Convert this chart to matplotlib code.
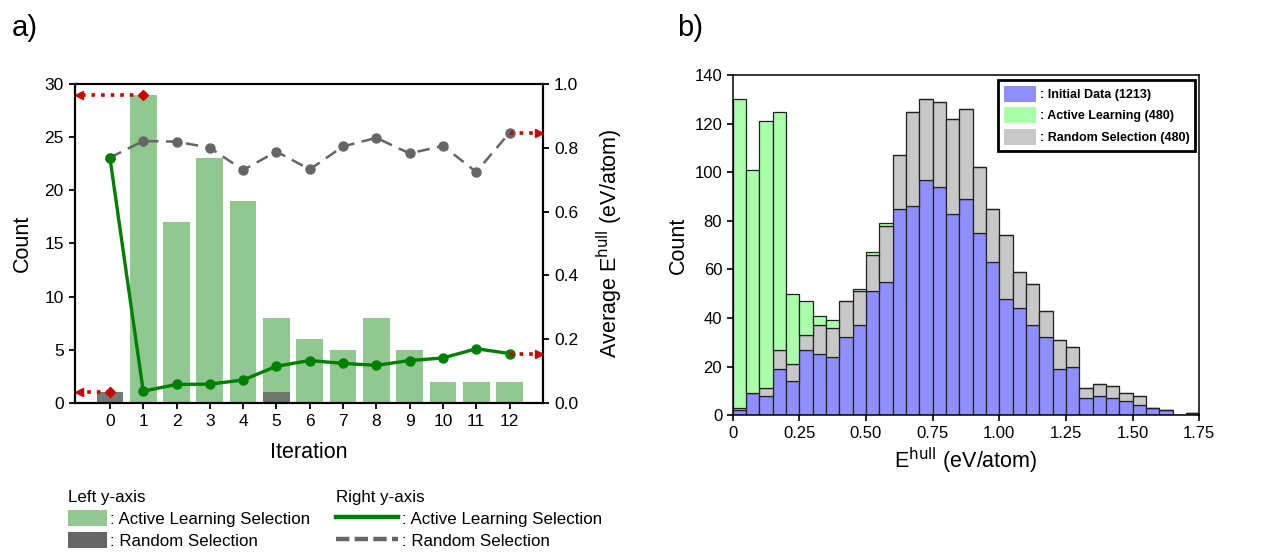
import numpy as np
import matplotlib
matplotlib.use("Agg")
import matplotlib.pyplot as plt
from matplotlib.patches import Patch
from matplotlib.lines import Line2D

plt.rcParams["font.family"] = ["Liberation Sans", "DejaVu Sans"]

# ---------- data: panel a ----------
iterations = list(range(13))
al_counts = [0, 29, 17, 23, 19, 8, 6, 5, 8, 5, 2, 2, 2]
rand_counts = [1, 0, 0, 0, 0, 1, 0, 0, 0, 0, 0, 0, 0]
al_ehull = [0.769, 0.037, 0.058, 0.059, 0.072, 0.115, 0.133, 0.124, 0.118, 0.133, 0.141, 0.170, 0.155]
rand_ehull = [0.769, 0.821, 0.819, 0.800, 0.730, 0.788, 0.732, 0.804, 0.831, 0.782, 0.806, 0.724, 0.847]

# ---------- data: panel b (counts per 0.05 eV/atom bin, stacked) ----------
initial_counts = [2, 9, 8, 19, 14, 27, 25, 24, 32, 37, 51, 55, 85, 86, 97, 94, 83, 89,
                  75, 63, 48, 44, 37, 32, 19, 20, 7, 8, 7, 6, 4, 3, 2, 0, 1]
random_counts = [1, 0, 3, 8, 7, 6, 12, 12, 15, 14, 15, 23, 22, 39, 33, 35, 39, 37,
                 27, 22, 26, 15, 17, 11, 12, 8, 4, 5, 5, 3, 4, 0, 0, 0, 0]
active_counts = [127, 92, 110, 98, 29, 14, 4, 3, 0, 1, 1, 1, 0, 0, 0, 0, 0, 0,
                 0, 0, 0, 0, 0, 0, 0, 0, 0, 0, 0, 0, 0, 0, 0, 0, 0]
bin_edges = np.linspace(0, 1.75, 36)

RED = "#cc0000"
AL_GREEN = "green"
RAND_DARK = "#6b736b"

fig = plt.figure(figsize=(12.68, 5.52), dpi=100)

# ---------- panel a ----------
ax = fig.add_axes([0.0591, 0.270, 0.369, 0.578])
ax.bar(iterations, al_counts, width=0.8, color=AL_GREEN, alpha=0.43, zorder=1)
ax.bar(iterations, rand_counts, width=0.8, color=RAND_DARK, alpha=0.95, zorder=2)
ax.set_xlim(-1.05, 13.0)
ax.set_ylim(0, 30)
ax.set_xticks(iterations)
ax.set_yticks(range(0, 31, 5))
ax.set_xlabel("Iteration", fontsize=15.5, labelpad=9)
ax.set_ylabel("Count", fontsize=15.5, labelpad=8)
ax.tick_params(labelsize=12.5, width=1.3, length=4.5)

ax2 = ax.twinx()
ax2.plot(iterations, rand_ehull, color="#666666", ls=(0, (5, 3)), lw=1.8,
         marker="o", ms=6.5, zorder=3)
ax2.plot(iterations, al_ehull, color=AL_GREEN, lw=2.4, marker="o", ms=6.5, zorder=4)
ax2.set_ylim(0, 1.0)
ax2.set_yticks(np.arange(0, 1.01, 0.2))
ax2.set_yticklabels([f"{v:.1f}" for v in np.arange(0, 1.01, 0.2)])
ax2.set_ylabel("Average E$^{\\mathrm{hull}}$ (eV/atom)", fontsize=15.5, labelpad=12)
ax2.tick_params(labelsize=12.5, width=1.3, length=4.5)
for a in (ax, ax2):
    for s in a.spines.values():
        s.set_linewidth(1.5)

# red dotted guide arrows
x_left = ax.get_xlim()[0]
x_right = ax.get_xlim()[1]
for xs, ys in [(1, al_counts[1]), (0, rand_counts[0])]:
    ax.plot([xs, x_left + 0.15], [ys, ys], color=RED, ls=":", lw=2.6, clip_on=False, zorder=5)
    ax.plot(xs, ys, marker="D", color=RED, ms=5, clip_on=False, zorder=5)
    ax.plot(x_left + 0.12, ys, marker="<", color=RED, ms=6, clip_on=False, zorder=5)
for ys in [al_ehull[-1], rand_ehull[-1]]:
    ax2.plot([iterations[-1], x_right - 0.15], [ys, ys], color=RED, ls=":", lw=2.6,
             clip_on=False, zorder=5)
    ax2.plot(x_right - 0.12, ys, marker=">", color=RED, ms=6, clip_on=False, zorder=5)

# legends below panel a
h_left = [Patch(color=AL_GREEN, alpha=0.43, lw=0), Patch(color="#666666", lw=0)]
leg1 = fig.legend(h_left, [": Active Learning Selection", ": Random Selection"],
                  title="Left y-axis", loc="upper left", bbox_to_anchor=(0.047, 0.128),
                  frameon=False, fontsize=12.2, title_fontsize=12.2, handlelength=2.3,
                  handleheight=1.1, handletextpad=0.2, labelspacing=0.3, borderpad=0)
leg1._legend_box.align = "left"
h_right = [Line2D([], [], color=AL_GREEN, lw=3.2),
           Line2D([], [], color="#666666", lw=3.2, ls=(0, (3, 1.2)))]
leg2 = fig.legend(h_right, [": Active Learning Selection", ": Random Selection"],
                  title="Right y-axis", loc="upper left", bbox_to_anchor=(0.258, 0.128),
                  frameon=False, fontsize=12.2, title_fontsize=12.2, handlelength=3.7,
                  handleheight=1.1, handletextpad=0.2, labelspacing=0.3, borderpad=0)
leg2._legend_box.align = "left"

# ---------- panel b ----------
bx = fig.add_axes([0.5778, 0.248, 0.368, 0.616])
lefts = bin_edges[:-1]
widths = np.diff(bin_edges)
init = np.array(initial_counts)
rand = np.array(random_counts)
act = np.array(active_counts)
bar_kw = dict(align="edge", edgecolor="#222222", linewidth=0.9)
bx.bar(lefts, init, width=widths, color="#8f8fff", **bar_kw)
bx.bar(lefts, rand, width=widths, bottom=init, color="#c8c8c8", **bar_kw)
bx.bar(lefts, act, width=widths, bottom=init + rand, color="#aaffaa", **bar_kw)
bx.set_xlim(0, 1.75)
bx.set_ylim(0, 140)
xt = np.arange(0, 1.76, 0.25)
bx.set_xticks(xt)
bx.set_xticklabels(["0"] + [f"{v:.2f}" for v in xt[1:]])
bx.set_yticks(range(0, 141, 20))
bx.tick_params(labelsize=12, width=1.2, length=4)
bx.set_xlabel("E$^{\\mathrm{hull}}$ (eV/atom)", fontsize=15.5)
bx.set_ylabel("Count", fontsize=15.5)
for s in bx.spines.values():
    s.set_linewidth(1.1)

h_b = [Patch(color="#8f8fff", lw=0), Patch(color="#aaffaa", lw=0), Patch(color="#c8c8c8", lw=0)]
lb = bx.legend(h_b, [": Initial Data (1213)", ": Active Learning (480)", ": Random Selection (480)"],
               loc="upper right", bbox_to_anchor=(0.997, 0.993), fancybox=False,
               edgecolor="black", framealpha=1, prop={"weight": "bold", "size": 9},
               handlelength=2.6, handleheight=1.6, handletextpad=0.3, labelspacing=0.45,
               borderpad=0.45, borderaxespad=0.2)
lb.get_frame().set_linewidth(2.0)

fig.text(0.009, 0.935, "a)", fontsize=21)
fig.text(0.534, 0.935, "b)", fontsize=21)

fig.savefig("out.png", dpi=100)
